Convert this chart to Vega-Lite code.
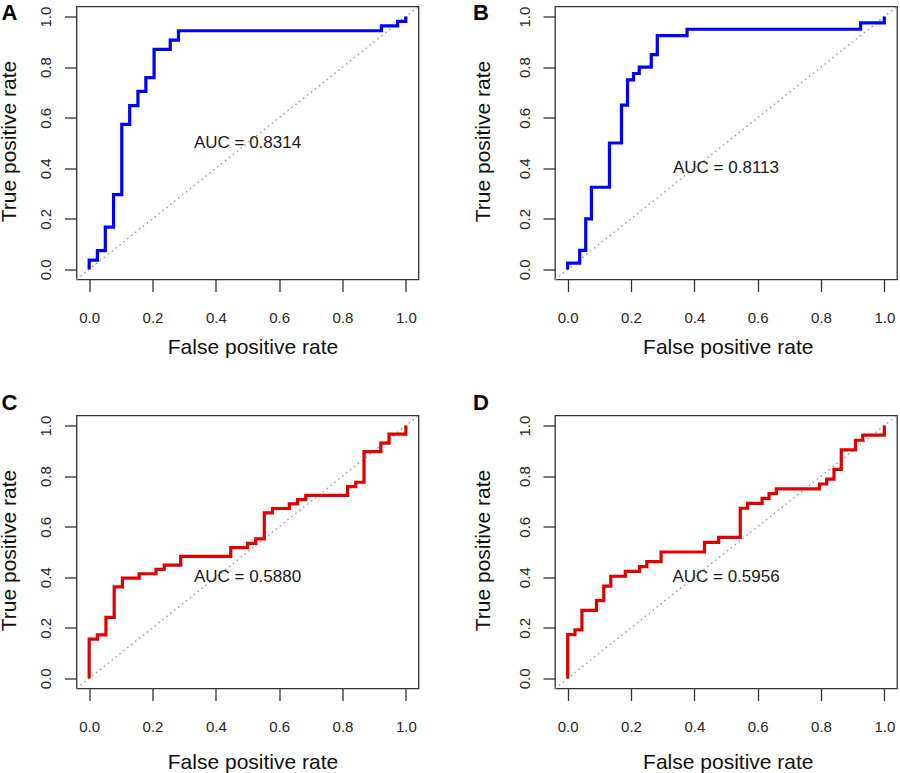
{
  "$schema": "https://vega.github.io/schema/vega-lite/v6.json",
  "description": "Four ROC curves (A-D) with AUC labels",
  "background": "white",
  "padding": {"left": -2.5, "top": 0.5, "right": 0, "bottom": 0},
  "datasets": {
    "diag": [{"fpr": -0.04, "tpr": -0.04}, {"fpr": 1.04, "tpr": 1.04}],
    "auc": [
      {"panel": "A", "fpr": 0.5, "tpr": 0.5, "label": "AUC = 0.8314"},
      {"panel": "B", "fpr": 0.5, "tpr": 0.4, "label": "AUC = 0.8113"},
      {"panel": "C", "fpr": 0.5, "tpr": 0.4, "label": "AUC = 0.5880"},
      {"panel": "D", "fpr": 0.5, "tpr": 0.4, "label": "AUC = 0.5956"}
    ],
    "rocA": [
      {"fpr": 0, "tpr": 0}, {"fpr": 0, "tpr": 0.037}, {"fpr": 0.026, "tpr": 0.037},
      {"fpr": 0.026, "tpr": 0.074}, {"fpr": 0.051, "tpr": 0.074}, {"fpr": 0.051, "tpr": 0.167},
      {"fpr": 0.077, "tpr": 0.167}, {"fpr": 0.077, "tpr": 0.296}, {"fpr": 0.103, "tpr": 0.296},
      {"fpr": 0.103, "tpr": 0.574}, {"fpr": 0.128, "tpr": 0.574}, {"fpr": 0.128, "tpr": 0.648},
      {"fpr": 0.154, "tpr": 0.648}, {"fpr": 0.154, "tpr": 0.704}, {"fpr": 0.179, "tpr": 0.704},
      {"fpr": 0.179, "tpr": 0.759}, {"fpr": 0.205, "tpr": 0.759}, {"fpr": 0.205, "tpr": 0.87},
      {"fpr": 0.256, "tpr": 0.87}, {"fpr": 0.256, "tpr": 0.907}, {"fpr": 0.282, "tpr": 0.907},
      {"fpr": 0.282, "tpr": 0.944}, {"fpr": 0.923, "tpr": 0.944}, {"fpr": 0.923, "tpr": 0.963},
      {"fpr": 0.974, "tpr": 0.963}, {"fpr": 0.974, "tpr": 0.981}, {"fpr": 1, "tpr": 0.981},
      {"fpr": 1, "tpr": 1}
    ],
    "rocB": [
      {"fpr": 0, "tpr": 0}, {"fpr": 0, "tpr": 0.025}, {"fpr": 0.038, "tpr": 0.025},
      {"fpr": 0.038, "tpr": 0.075}, {"fpr": 0.057, "tpr": 0.075}, {"fpr": 0.057, "tpr": 0.2},
      {"fpr": 0.075, "tpr": 0.2}, {"fpr": 0.075, "tpr": 0.325}, {"fpr": 0.132, "tpr": 0.325},
      {"fpr": 0.132, "tpr": 0.5}, {"fpr": 0.17, "tpr": 0.5}, {"fpr": 0.17, "tpr": 0.65},
      {"fpr": 0.189, "tpr": 0.65}, {"fpr": 0.189, "tpr": 0.75}, {"fpr": 0.208, "tpr": 0.75},
      {"fpr": 0.208, "tpr": 0.775}, {"fpr": 0.226, "tpr": 0.775}, {"fpr": 0.226, "tpr": 0.8},
      {"fpr": 0.264, "tpr": 0.8}, {"fpr": 0.264, "tpr": 0.85}, {"fpr": 0.283, "tpr": 0.85},
      {"fpr": 0.283, "tpr": 0.925}, {"fpr": 0.377, "tpr": 0.925}, {"fpr": 0.377, "tpr": 0.95},
      {"fpr": 0.925, "tpr": 0.95}, {"fpr": 0.925, "tpr": 0.975}, {"fpr": 1, "tpr": 0.975},
      {"fpr": 1, "tpr": 1}
    ],
    "rocC": [
      {"fpr": 0, "tpr": 0}, {"fpr": 0, "tpr": 0.155}, {"fpr": 0.026, "tpr": 0.155},
      {"fpr": 0.026, "tpr": 0.172}, {"fpr": 0.053, "tpr": 0.172}, {"fpr": 0.053, "tpr": 0.241},
      {"fpr": 0.079, "tpr": 0.241}, {"fpr": 0.079, "tpr": 0.362}, {"fpr": 0.105, "tpr": 0.362},
      {"fpr": 0.105, "tpr": 0.397}, {"fpr": 0.158, "tpr": 0.397}, {"fpr": 0.158, "tpr": 0.414},
      {"fpr": 0.211, "tpr": 0.414}, {"fpr": 0.211, "tpr": 0.431}, {"fpr": 0.237, "tpr": 0.431},
      {"fpr": 0.237, "tpr": 0.448}, {"fpr": 0.289, "tpr": 0.448}, {"fpr": 0.289, "tpr": 0.483},
      {"fpr": 0.447, "tpr": 0.483}, {"fpr": 0.447, "tpr": 0.517}, {"fpr": 0.5, "tpr": 0.517},
      {"fpr": 0.5, "tpr": 0.534}, {"fpr": 0.526, "tpr": 0.534}, {"fpr": 0.526, "tpr": 0.552},
      {"fpr": 0.553, "tpr": 0.552}, {"fpr": 0.553, "tpr": 0.655}, {"fpr": 0.579, "tpr": 0.655},
      {"fpr": 0.579, "tpr": 0.672}, {"fpr": 0.632, "tpr": 0.672}, {"fpr": 0.632, "tpr": 0.69},
      {"fpr": 0.658, "tpr": 0.69}, {"fpr": 0.658, "tpr": 0.707}, {"fpr": 0.684, "tpr": 0.707},
      {"fpr": 0.684, "tpr": 0.724}, {"fpr": 0.816, "tpr": 0.724}, {"fpr": 0.816, "tpr": 0.759},
      {"fpr": 0.842, "tpr": 0.759}, {"fpr": 0.842, "tpr": 0.776}, {"fpr": 0.868, "tpr": 0.776},
      {"fpr": 0.868, "tpr": 0.897}, {"fpr": 0.921, "tpr": 0.897}, {"fpr": 0.921, "tpr": 0.931},
      {"fpr": 0.947, "tpr": 0.931}, {"fpr": 0.947, "tpr": 0.966}, {"fpr": 1, "tpr": 0.966},
      {"fpr": 1, "tpr": 1}
    ],
    "rocD": [
      {"fpr": 0, "tpr": 0}, {"fpr": 0, "tpr": 0.173}, {"fpr": 0.023, "tpr": 0.173},
      {"fpr": 0.023, "tpr": 0.192}, {"fpr": 0.045, "tpr": 0.192}, {"fpr": 0.045, "tpr": 0.269},
      {"fpr": 0.091, "tpr": 0.269}, {"fpr": 0.091, "tpr": 0.308}, {"fpr": 0.114, "tpr": 0.308},
      {"fpr": 0.114, "tpr": 0.365}, {"fpr": 0.136, "tpr": 0.365}, {"fpr": 0.136, "tpr": 0.404},
      {"fpr": 0.182, "tpr": 0.404}, {"fpr": 0.182, "tpr": 0.423}, {"fpr": 0.227, "tpr": 0.423},
      {"fpr": 0.227, "tpr": 0.442}, {"fpr": 0.25, "tpr": 0.442}, {"fpr": 0.25, "tpr": 0.462},
      {"fpr": 0.295, "tpr": 0.462}, {"fpr": 0.295, "tpr": 0.5}, {"fpr": 0.432, "tpr": 0.5},
      {"fpr": 0.432, "tpr": 0.538}, {"fpr": 0.477, "tpr": 0.538}, {"fpr": 0.477, "tpr": 0.558},
      {"fpr": 0.545, "tpr": 0.558}, {"fpr": 0.545, "tpr": 0.673}, {"fpr": 0.568, "tpr": 0.673},
      {"fpr": 0.568, "tpr": 0.692}, {"fpr": 0.614, "tpr": 0.692}, {"fpr": 0.614, "tpr": 0.712},
      {"fpr": 0.636, "tpr": 0.712}, {"fpr": 0.636, "tpr": 0.731}, {"fpr": 0.659, "tpr": 0.731},
      {"fpr": 0.659, "tpr": 0.75}, {"fpr": 0.795, "tpr": 0.75}, {"fpr": 0.795, "tpr": 0.769},
      {"fpr": 0.818, "tpr": 0.769}, {"fpr": 0.818, "tpr": 0.788}, {"fpr": 0.841, "tpr": 0.788},
      {"fpr": 0.841, "tpr": 0.827}, {"fpr": 0.864, "tpr": 0.827}, {"fpr": 0.864, "tpr": 0.904},
      {"fpr": 0.909, "tpr": 0.904}, {"fpr": 0.909, "tpr": 0.942}, {"fpr": 0.932, "tpr": 0.942},
      {"fpr": 0.932, "tpr": 0.962}, {"fpr": 1, "tpr": 0.962}, {"fpr": 1, "tpr": 1}
    ]
  },
  "columns": 2,
  "spacing": {"row": 136, "column": 136.5},
  "bounds": "flush",
  "concat": [
    {
      "width": 342,
      "height": 273,
      "title": {"text": "A", "dx": -75, "dy": 25},
      "encoding": {
        "x": {"field": "fpr", "type": "quantitative", "scale": {"domain": [-0.04, 1.04], "nice": false, "zero": false},
              "axis": {"title": "False positive rate", "titleX": 176, "titleY": 74, "values": [0, 0.2, 0.4, 0.6, 0.8, 1]}},
        "y": {"field": "tpr", "type": "quantitative", "scale": {"domain": [-0.04, 1.04], "nice": false, "zero": false},
              "axis": {"title": "True positive rate", "titleX": -61, "titleY": 134.5, "values": [0, 0.2, 0.4, 0.6, 0.8, 1]}}
      },
      "layer": [
        {"data": {"name": "diag"}, "mark": {"type": "line", "color": "#999999", "strokeWidth": 1.4, "strokeDash": [1.5, 3.5]}, "encoding": {}},
        {"data": {"name": "rocA"}, "mark": {"type": "line", "color": "#0000ff", "strokeWidth": 3.2}, "encoding": {"order": {"value": null}}},
        {"data": {"name": "auc"}, "transform": [{"filter": "datum.panel === 'A'"}], "mark": {"type": "text", "fontSize": 17, "color": "#1a1a1a"}, "encoding": {"text": {"field": "label"}}}
      ]
    },
    {
      "width": 342,
      "height": 273,
      "title": {"text": "B", "dx": -82, "dy": 25},
      "encoding": {
        "x": {"field": "fpr", "type": "quantitative", "scale": {"domain": [-0.04, 1.04], "nice": false, "zero": false},
              "axis": {"title": "False positive rate", "titleX": 172.8, "titleY": 74, "values": [0, 0.2, 0.4, 0.6, 0.8, 1]}},
        "y": {"field": "tpr", "type": "quantitative", "scale": {"domain": [-0.04, 1.04], "nice": false, "zero": false},
              "axis": {"title": "True positive rate", "titleX": -66, "titleY": 134.5, "values": [0, 0.2, 0.4, 0.6, 0.8, 1]}}
      },
      "layer": [
        {"data": {"name": "diag"}, "mark": {"type": "line", "color": "#999999", "strokeWidth": 1.4, "strokeDash": [1.5, 3.5]}, "encoding": {}},
        {"data": {"name": "rocB"}, "mark": {"type": "line", "color": "#0000ff", "strokeWidth": 3.2}, "encoding": {"order": {"value": null}}},
        {"data": {"name": "auc"}, "transform": [{"filter": "datum.panel === 'B'"}], "mark": {"type": "text", "fontSize": 17, "color": "#1a1a1a"}, "encoding": {"text": {"field": "label"}}}
      ]
    },
    {
      "width": 342,
      "height": 273,
      "title": {"text": "C", "dx": -75, "dy": 6},
      "encoding": {
        "x": {"field": "fpr", "type": "quantitative", "scale": {"domain": [-0.04, 1.04], "nice": false, "zero": false},
              "axis": {"title": "False positive rate", "titleX": 176, "titleY": 80, "values": [0, 0.2, 0.4, 0.6, 0.8, 1]}},
        "y": {"field": "tpr", "type": "quantitative", "scale": {"domain": [-0.04, 1.04], "nice": false, "zero": false},
              "axis": {"title": "True positive rate", "titleX": -61, "titleY": 134.5, "values": [0, 0.2, 0.4, 0.6, 0.8, 1]}}
      },
      "layer": [
        {"data": {"name": "diag"}, "mark": {"type": "line", "color": "#999999", "strokeWidth": 1.4, "strokeDash": [1.5, 3.5]}, "encoding": {}},
        {"data": {"name": "rocC"}, "mark": {"type": "line", "color": "#e00000", "strokeWidth": 3.2}, "encoding": {"order": {"value": null}}},
        {"data": {"name": "auc"}, "transform": [{"filter": "datum.panel === 'C'"}], "mark": {"type": "text", "fontSize": 17, "color": "#1a1a1a"}, "encoding": {"text": {"field": "label"}}}
      ]
    },
    {
      "width": 342,
      "height": 273,
      "title": {"text": "D", "dx": -82, "dy": 6},
      "encoding": {
        "x": {"field": "fpr", "type": "quantitative", "scale": {"domain": [-0.04, 1.04], "nice": false, "zero": false},
              "axis": {"title": "False positive rate", "titleX": 172.8, "titleY": 80, "values": [0, 0.2, 0.4, 0.6, 0.8, 1]}},
        "y": {"field": "tpr", "type": "quantitative", "scale": {"domain": [-0.04, 1.04], "nice": false, "zero": false},
              "axis": {"title": "True positive rate", "titleX": -66, "titleY": 134.5, "values": [0, 0.2, 0.4, 0.6, 0.8, 1]}}
      },
      "layer": [
        {"data": {"name": "diag"}, "mark": {"type": "line", "color": "#999999", "strokeWidth": 1.4, "strokeDash": [1.5, 3.5]}, "encoding": {}},
        {"data": {"name": "rocD"}, "mark": {"type": "line", "color": "#e00000", "strokeWidth": 3.2}, "encoding": {"order": {"value": null}}},
        {"data": {"name": "auc"}, "transform": [{"filter": "datum.panel === 'D'"}], "mark": {"type": "text", "fontSize": 17, "color": "#1a1a1a"}, "encoding": {"text": {"field": "label"}}}
      ]
    }
  ],
  "config": {
    "font": "Liberation Sans",
    "view": {"stroke": "#333333", "strokeWidth": 1.3},
    "title": {"anchor": "start", "frame": "group", "baseline": "alphabetic", "fontSize": 22, "fontWeight": "bold", "offset": 0, "color": "#000000"},
    "axis": {
      "domain": false,
      "grid": false,
      "format": ".1f",
      "tickSize": 12,
      "tickColor": "#333333",
      "tickWidth": 1.3,
      "labelFont": "Liberation Sans",
      "labelFontSize": 15,
      "labelColor": "#262626",
      "titleFont": "Liberation Sans",
      "titleFontSize": 21,
      "titleFontWeight": "normal",
      "titleColor": "#111111"
    },
    "axisX": {"labelBaseline": "alphabetic", "labelPadding": 31, "labelAngle": 0, "titleBaseline": "alphabetic"},
    "axisY": {"labelAngle": -90, "labelAlign": "center", "labelBaseline": "alphabetic", "labelPadding": 14, "titleAngle": -90, "titleBaseline": "alphabetic", "titleAlign": "center"}
  }
}
